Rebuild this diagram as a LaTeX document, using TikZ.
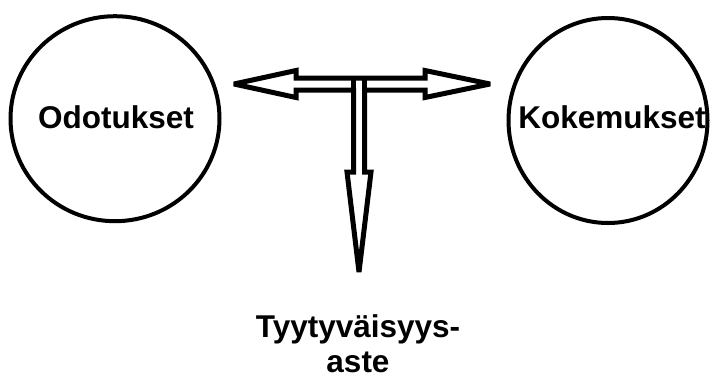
\documentclass[tikz,border=0pt]{standalone}
\usepackage{fontspec}
\setmainfont{Liberation Sans}
\usetikzlibrary{shapes.geometric}
\begin{document}
\begin{tikzpicture}[x=1pt,y=-1pt,
  bubble/.style={draw=black,line width=4pt,ellipse,inner sep=0pt},
  label/.style={font=\fontsize{31.5}{35}\selectfont\bfseries,inner sep=0pt,anchor=base,align=center},
  blockarrow/.style={draw=black,fill=white,line width=5pt,line join=miter,miter limit=2.5}]
\useasboundingbox (0,0) rectangle (710,376);

% the two circles
\node[bubble,minimum width=209pt,minimum height=205pt] (odo) at (115,118.7) {};
\node[bubble,minimum width=199pt,minimum height=205pt] (koke) at (608,120.5) {};
\node[label] (odotxt) at (116,128) {Odotukset};
\node[label] (koketxt) at (612,128) {Kokemukset};

% T-shaped hollow arrow: double head left/right, single head downward
\coordinate (ltip) at (234,84);
\coordinate (rtip) at (490,84);
\coordinate (dtip) at (359,272);
\path[blockarrow]
  (ltip) -- (296,70.5) -- (296,78) -- (425,78) -- (425,70.5) -- (rtip)
  -- (425,97.5) -- (425,90) -- (364.5,90) -- (364.5,172) -- (371,172)
  -- (dtip) -- (347,172) -- (353.5,172) -- (353.5,90) -- (296,90)
  -- (296,97.5) -- cycle;
\draw[line width=5pt] (353.5,78) -- (353.5,92) (364.5,78) -- (364.5,92);

\node[label,anchor=north] (tyyt) at (358,314.5) {Tyytyväisyys-\\aste};
\end{tikzpicture}
\end{document}
